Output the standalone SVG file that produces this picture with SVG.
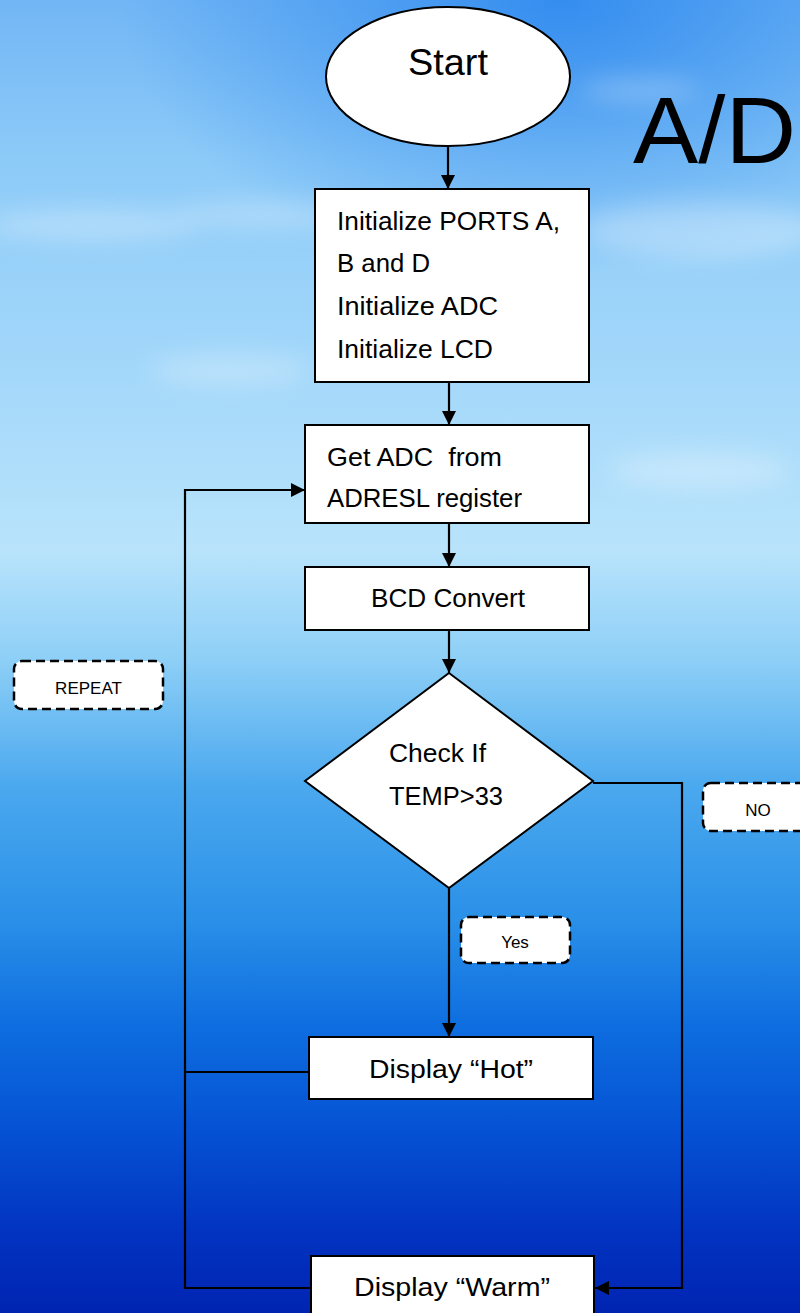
<svg xmlns="http://www.w3.org/2000/svg" width="800" height="1313" viewBox="0 0 800 1313">
<defs>
<linearGradient id="sky" x1="0" y1="0" x2="0" y2="1">
<stop offset="0" stop-color="#72b6f5"/>
<stop offset="0.12" stop-color="#8ccaf8"/>
<stop offset="0.3" stop-color="#a6d9fa"/>
<stop offset="0.42" stop-color="#b8e3fb"/>
<stop offset="0.5" stop-color="#8fd0f7"/>
<stop offset="0.6" stop-color="#4aa8ee"/>
<stop offset="0.7" stop-color="#2a90e8"/>
<stop offset="0.78" stop-color="#0e6ee0"/>
<stop offset="0.86" stop-color="#0552d4"/>
<stop offset="0.94" stop-color="#0233c0"/>
<stop offset="1" stop-color="#0024b2"/>
</linearGradient>
<radialGradient id="topblue" cx="0.7" cy="0" r="0.55">
<stop offset="0" stop-color="#2a86ee" stop-opacity="0.85"/>
<stop offset="1" stop-color="#2a86ee" stop-opacity="0"/>
</radialGradient>
<filter id="blur" x="-50%" y="-50%" width="200%" height="200%"><feGaussianBlur stdDeviation="12"/></filter>
<marker id="arr" viewBox="0 0 14 14" refX="14" refY="7" markerWidth="14" markerHeight="14" markerUnits="userSpaceOnUse" orient="auto">
<path d="M0,0 L14,7 L0,14 Z" fill="#000"/>
</marker>
<style>
.box{fill:#fff;stroke:#000;stroke-width:2}
.lbl{fill:#fff;stroke:#000;stroke-width:2.5;stroke-dasharray:9 5}
.t{font-family:"Liberation Sans",Arial,sans-serif;font-size:26px;fill:#000;white-space:pre}
.s{font-family:"Liberation Sans",Arial,sans-serif;font-size:17px;fill:#000}
.c{fill:none;stroke:#000;stroke-width:2.2}
.a{marker-end:url(#arr)}
</style>
</defs>
<g id="background">
<rect x="0" y="0" width="800" height="1313" fill="url(#sky)"/>
<rect x="0" y="0" width="800" height="500" fill="url(#topblue)"/>
<g filter="url(#blur)" fill="#ffffff" opacity="0.28">
<ellipse cx="90" cy="225" rx="110" ry="16"/>
<ellipse cx="260" cy="215" rx="90" ry="12"/>
<ellipse cx="700" cy="230" rx="120" ry="28"/>
<ellipse cx="640" cy="90" rx="60" ry="10"/>
<ellipse cx="700" cy="470" rx="90" ry="18"/>
<ellipse cx="230" cy="370" rx="80" ry="14"/>
</g>
</g>
<g id="title"><text x="633" y="163" font-family="'Liberation Sans',Arial,sans-serif" font-size="94" fill="#000" textLength="163" lengthAdjust="spacingAndGlyphs">A/D</text></g>
<g id="connectors">
<line class="c a" x1="448" y1="146" x2="448" y2="189"/>
<line class="c a" x1="449" y1="382" x2="449" y2="425"/>
<line class="c a" x1="449" y1="523" x2="449" y2="567"/>
<line class="c a" x1="449" y1="630" x2="449" y2="673"/>
<line class="c a" x1="449" y1="888" x2="449" y2="1037"/>
<polyline class="c a" points="593,783 682,783 682,1288 595,1288"/>
<polyline class="c a" points="311,1288 185,1288 185,490 305,490"/>
<line class="c" x1="309" y1="1072" x2="185" y2="1072"/>
</g>
<g id="start">
<ellipse class="box" cx="448" cy="76.5" rx="122" ry="69.5"/>
<text x="408" y="75" style="font-family:'Liberation Sans',Arial,sans-serif;font-size:36px" fill="#000" textLength="80" lengthAdjust="spacingAndGlyphs">Start</text>
</g>
<g id="init">
<rect class="box" x="315" y="189" width="274" height="193"/>
<text class="t" x="337" y="230" textLength="223" lengthAdjust="spacingAndGlyphs">Initialize PORTS A,</text>
<text class="t" x="337" y="272" textLength="93" lengthAdjust="spacingAndGlyphs">B and D</text>
<text class="t" x="337" y="315" textLength="161" lengthAdjust="spacingAndGlyphs">Initialize ADC</text>
<text class="t" x="337" y="358" textLength="156" lengthAdjust="spacingAndGlyphs">Initialize LCD</text>
</g>
<g id="getadc">
<rect class="box" x="305" y="425" width="284" height="98"/>
<text class="t" x="327" y="466" textLength="175" lengthAdjust="spacingAndGlyphs">Get ADC  from</text>
<text class="t" x="327" y="507" textLength="195" lengthAdjust="spacingAndGlyphs">ADRESL register</text>
</g>
<g id="bcd">
<rect class="box" x="305" y="567" width="284" height="63"/>
<text class="t" x="371" y="607" textLength="154" lengthAdjust="spacingAndGlyphs">BCD Convert</text>
</g>
<g id="check">
<polygon class="box" points="449,673 593,781 449,888 305,781"/>
<text class="t" x="389" y="762" textLength="97" lengthAdjust="spacingAndGlyphs">Check If</text>
<text class="t" x="389" y="805" textLength="114" lengthAdjust="spacingAndGlyphs">TEMP&gt;33</text>
</g>
<g id="hot">
<rect class="box" x="309" y="1037" width="284" height="62"/>
<text class="t" x="369" y="1078" textLength="164" lengthAdjust="spacingAndGlyphs">Display “Hot”</text>
</g>
<g id="warm">
<rect class="box" x="311" y="1256" width="283" height="70"/>
<text class="t" x="354" y="1296" textLength="196" lengthAdjust="spacingAndGlyphs">Display “Warm”</text>
</g>
<g id="repeat">
<rect class="lbl" x="14" y="661" width="149" height="48" rx="8"/>
<text class="s" x="88.5" y="694" text-anchor="middle">REPEAT</text>
</g>
<g id="no">
<rect class="lbl" x="703" y="783" width="110" height="48" rx="8"/>
<text class="s" x="758" y="816" text-anchor="middle">NO</text>
</g>
<g id="yes">
<rect class="lbl" x="461" y="917" width="109" height="46" rx="8"/>
<text class="s" x="515" y="948" text-anchor="middle">Yes</text>
</g>
</svg>
